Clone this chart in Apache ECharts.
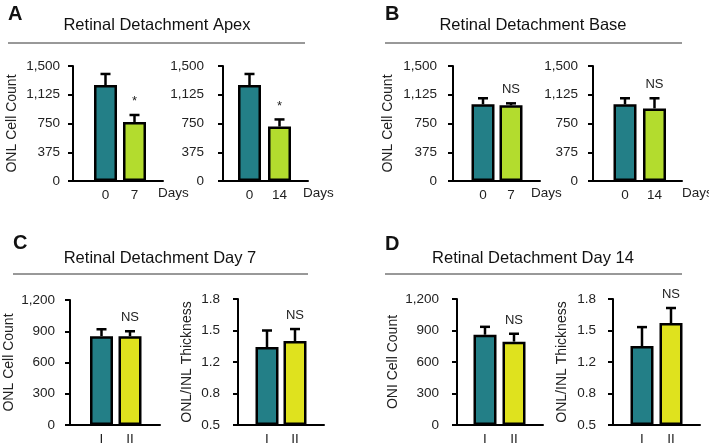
<!DOCTYPE html>
<html><head><meta charset="utf-8">
<script src="https://cdn.jsdelivr.net/npm/echarts@6/dist/echarts.min.js"></script>
<style>html,body{margin:0;padding:0;background:#fff}#c{width:709px;height:446px}</style>
</head><body><div id="c"></div>
<script>
// ---- data ----
const daysCats0_7 = ['0', '7'];
const daysCats0_14 = ['0', '14'];
const groupCats = ['I', 'II'];

const apex7Mean = [1252, 770];
const apex7Err = [144, 91];
const apex14Mean = [1252, 710];
const apex14Err = [144, 93];
const base7Mean = [1000, 987];
const base7Err = [79, 26];
const base14Mean = [1000, 947];
const base14Err = [79, 132];
const day7CountMean = [853, 853];
const day7CountErr = [66, 47];
const day7ThickMean = [1.305, 1.367];
const day7ThickErr = [0.17, 0.123];
const day14CountMean = [860, 794];
const day14CountErr = [75, 75];
const day14ThickMean = [1.315, 1.552];
const day14ThickErr = [0.195, 0.155];

const starMarks = ['', '*'];
const nsMarks = ['', 'NS'];

const countTicks15 = [0, 375, 750, 1125, 1500];
const countLabels15 = ['0', '375', '750', '1,125', '1,500'];
const countTicks12 = [0, 300, 600, 900, 1200];
const countLabels12 = ['0', '300', '600', '900', '1,200'];
const thickTicks = [0.5, 0.825, 1.15, 1.475, 1.8];
const thickLabels = ['0.5', '0.8', '1.2', '1.5', '1.8'];

const titles = ['Retinal Detachment Apex', 'Retinal Detachment Base', 'Retinal Detachment Day 7', 'Retinal Detachment Day 14'];
const letters = ['A', 'B', 'C', 'D'];

// ---- style / layout ----
const FONT = '"Liberation Sans", Arial, Helvetica, sans-serif';
const teal = '#237f87', green = '#b3dc2e', yellow = '#dfe21e';

const charts = [
  {x0:73, x1:163, c1:105.5, c2:134.5, top:66, h:115, cats:daysCats0_7, mean:apex7Mean, err:apex7Err, marks:starMarks, ticks:countTicks15, labels:countLabels15, color:green, name:'ONL Cell Count', nameGap:54, lm:13, days:158},
  {x0:223, x1:308, c1:249.5, c2:279.5, top:66, h:115, cats:daysCats0_14, mean:apex14Mean, err:apex14Err, marks:starMarks, ticks:countTicks15, labels:countLabels15, color:green, name:'', nameGap:50, lm:19, days:303},
  {x0:453, x1:540, c1:483, c2:511, top:66, h:115, cats:daysCats0_7, mean:base7Mean, err:base7Err, marks:nsMarks, ticks:countTicks15, labels:countLabels15, color:green, name:'ONL Cell Count', nameGap:58, lm:16, days:531},
  {x0:593, x1:682, c1:625, c2:654.5, top:66, h:115, cats:daysCats0_14, mean:base14Mean, err:base14Err, marks:nsMarks, ticks:countTicks15, labels:countLabels15, color:green, name:'', nameGap:50, lm:15, days:682},
  {x0:70, x1:160, c1:101.5, c2:130, top:300, h:128, cats:groupCats, mean:day7CountMean, err:day7CountErr, marks:nsMarks, ticks:countTicks12, labels:countLabels12, color:yellow, name:'ONL Cell Count', nameGap:54, lm:15, days:null},
  {x0:238, x1:324, c1:267, c2:295, top:299, h:126, cats:groupCats, mean:day7ThickMean, err:day7ThickErr, marks:nsMarks, ticks:thickTicks, labels:thickLabels, color:yellow, name:'ONL/INL Thickness', nameGap:44, lm:18, days:null},
  {x0:457, x1:543, c1:485, c2:514, top:299, h:127, cats:groupCats, mean:day14CountMean, err:day14CountErr, marks:nsMarks, ticks:countTicks12, labels:countLabels12, color:yellow, name:'ONI Cell Count', nameGap:57, lm:18, days:null},
  {x0:613, x1:700, c1:642, c2:671, top:299, h:126, cats:groupCats, mean:day14ThickMean, err:day14ThickErr, marks:nsMarks, ticks:thickTicks, labels:thickLabels, color:yellow, name:'ONL/INL Thickness', nameGap:44, lm:17, days:null}
];

const grid = [], xAxis = [], yAxis = [], series = [], graphic = [];

charts.forEach((c, i) => {
  const unit = c.c2 - c.c1;
  const xmin = -(c.c1 - c.x0) / unit;
  const xmax = 1 + (c.x1 - c.c2) / unit;
  grid.push({left: c.x0, top: c.top, width: c.x1 - c.x0, height: c.h, containLabel: false});
  xAxis.push({
    gridIndex: i, type: 'value', min: xmin, max: xmax,
    axisLine: {show: true, onZero: false, lineStyle: {color: '#000', width: 2}},
    axisTick: {show: false}, splitLine: {show: false},
    axisLabel: {customValues: [0, 1], formatter: v => c.cats[Math.round(v)], margin: 7, fontSize: 13.5, color: '#222', fontFamily: FONT}
  });
  const ymin = c.ticks[0], ymax = c.ticks[c.ticks.length - 1];
  yAxis.push({
    gridIndex: i, type: 'value', min: ymin, max: ymax, startValue: ymin,
    name: c.name, nameLocation: 'middle', nameGap: c.nameGap,
    nameTextStyle: {fontSize: 14, color: '#222', fontFamily: FONT},
    axisLine: {show: true, onZero: false, lineStyle: {color: '#000', width: 2}},
    axisTick: {show: true, customValues: c.ticks, length: 5, lineStyle: {color: '#000', width: 2}},
    splitLine: {show: false},
    axisLabel: {customValues: c.ticks, formatter: v => {
      let k = 0, best = Infinity;
      c.ticks.forEach((t, j) => { const d = Math.abs(t - v); if (d < best) { best = d; k = j; } });
      return c.labels[k];
    }, margin: c.lm, fontSize: 13.5, color: '#222', fontFamily: FONT}
  });
  series.push({
    type: 'bar', xAxisIndex: i, yAxisIndex: i, barWidth: 23,
    data: c.mean.map((v, k) => ({value: [k, v], itemStyle: {color: k === 0 ? teal : c.color}})),
    itemStyle: {borderColor: '#000', borderWidth: 2.5},
    silent: true, animation: false
  });
  series.push({
    type: 'custom', xAxisIndex: i, yAxisIndex: i, z: 5, animation: false, silent: true,
    data: c.mean.map((v, k) => [k, v, c.err[k]]),
    renderItem: (params, api) => {
      const k = api.value(0), m = api.value(1), e = api.value(2);
      const p0 = api.coord([k, m]);
      const p1 = api.coord([k, m + e]);
      const children = [
        {type: 'line', shape: {x1: p0[0], y1: p0[1], x2: p1[0], y2: p1[1]}, style: {stroke: '#000', lineWidth: 2.5}},
        {type: 'line', shape: {x1: p1[0] - 5, y1: p1[1], x2: p1[0] + 5, y2: p1[1]}, style: {stroke: '#000', lineWidth: 2.5}}
      ];
      const mk = c.marks[params.dataIndex];
      if (mk) {
        children.push({type: 'text', x: p1[0], y: p1[1] - 7, style: {text: mk, fill: '#222', font: '13px ' + FONT, textAlign: 'center', textVerticalAlign: 'bottom'}});
      }
      return {type: 'group', children};
    }
  });
  if (c.days !== null) {
    graphic.push({type: 'text', left: c.days, top: c.top + c.h + 5, style: {text: 'Days', fill: '#222', font: '13.5px ' + FONT}});
  }
});

// panel headers
const panels = [
  {lx: 8, ly: 4, tx: 157, ty: 25, rx0: 8, rx1: 305, ry: 43},
  {lx: 385, ly: 4, tx: 533, ty: 25, rx0: 385, rx1: 682, ry: 43},
  {lx: 13, ly: 233, tx: 160, ty: 258, rx0: 13, rx1: 308, ry: 274},
  {lx: 385, ly: 234, tx: 533, ty: 258, rx0: 385, rx1: 682, ry: 274}
];
panels.forEach((p, i) => {
  graphic.push({type: 'text', x: p.lx, y: p.ly, style: {text: letters[i], fill: '#111', font: 'bold 20px ' + FONT, textVerticalAlign: 'top'}});
  graphic.push({type: 'text', x: p.tx, y: p.ty, style: {text: titles[i], fill: '#111', font: '16.5px ' + FONT, textAlign: 'center', textVerticalAlign: 'middle'}});
  graphic.push({type: 'line', shape: {x1: p.rx0, y1: p.ry, x2: p.rx1, y2: p.ry}, style: {stroke: '#333', lineWidth: 1}});
});

const chart = echarts.init(document.getElementById('c'), null, {renderer: 'canvas'});
chart.setOption({animation: false, backgroundColor: '#fff', grid, xAxis, yAxis, series, graphic});
</script>
</body></html>
